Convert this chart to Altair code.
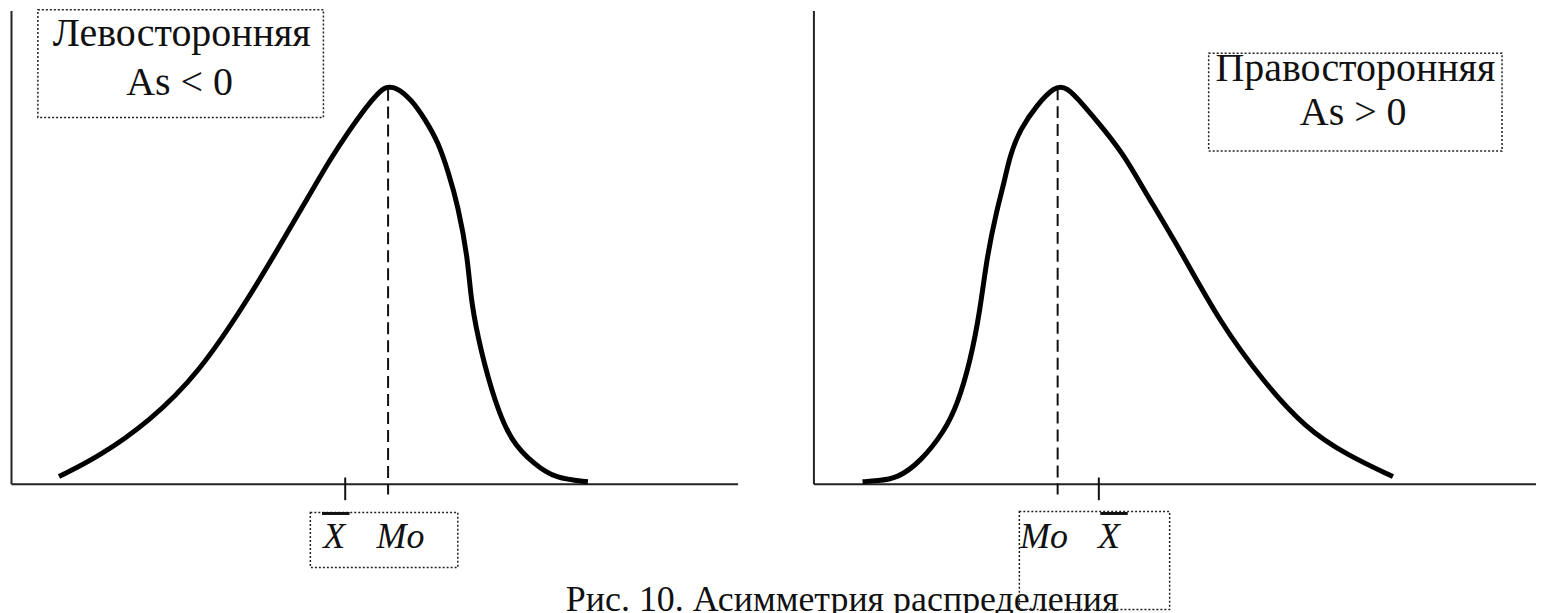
import altair as alt
import pandas as pd

# ---------------- data (panel units: x 0..100, y 0..100) ----------------
# Left-skewed distribution (As < 0)
left_x = [6.6, 12.1, 19.0, 25.8, 32.7, 36.8, 40.5, 44.1, 46.4, 48.9, 50.5,
          51.5, 53.0, 55.1, 57.0, 58.8, 60.2, 61.5, 62.9, 63.3, 64.7, 66.6, 68.8,
          72.1, 74.9, 79.4]
left_y = [1.5, 5.7, 13.1, 23.2, 39.2, 49.8, 59.5, 69.0, 74.3, 79.7, 82.5,
          83.9, 83.9, 81.2, 77.0, 72.2, 65.8, 58.9, 47.5, 38.4, 27.8, 17.3, 8.9,
          4.0, 1.1, 0.4]
left_mode, left_mean = 51.9, 46.0

# Right-skewed distribution (As > 0)
right_x = [6.8, 8.8, 11.6, 14.8, 18.1, 19.9, 21.7, 23.1, 24.0, 25.4, 26.4, 27.2,
           28.6, 30.9, 33.4, 35.0, 37.4, 40.2, 43.0, 45.7, 50.7, 56.2, 62.3, 68.2,
           73.8, 80.2]
right_y = [0.4, 0.6, 1.1, 4.6, 11.0, 16.6, 25.7, 36.9, 47.9, 58.0, 63.7, 69.4,
           74.9, 80.0, 84.0, 84.0, 80.0, 74.9, 69.4, 62.2, 49.6, 34.2, 21.5, 11.6,
           6.1, 1.5]
right_mode, right_mean = 33.8, 39.5

# Texts
left_title = ["Левосторонняя", "As < 0"]
right_title = ["Правосторонняя", "As > 0"]
caption = "Рис. 10. Асимметрия распределения"

# ---------------- helpers ----------------
W_L, W_R, H = 728, 724, 474
FONT = "Liberation Serif, Times New Roman, serif"

xs = alt.Scale(domain=[0, 100], nice=False, zero=False)
ys = alt.Scale(domain=[0, 100], nice=False, zero=False)
ax = alt.Axis(domain=True, domainColor="#222222", domainWidth=2, ticks=False,
              labels=False, grid=False, title=None)


def X(f="x"):
    return alt.X(f"{f}:Q", scale=xs, axis=ax)


def Y(f="y"):
    return alt.Y(f"{f}:Q", scale=ys, axis=ax)


def panel(cx, cy, mode, mean, title_lines, title_box, title_pos,
          lab_pos, lab_box, overline, width, extra=None):
    curve_df = pd.DataFrame({"x": cx, "y": cy})
    peak = max(cy) - 0.4
    curve = alt.Chart(curve_df).mark_line(
        color="black", strokeWidth=5, interpolate="basis"
    ).encode(x=X(), y=Y(), order="x:Q")

    dash = alt.Chart(pd.DataFrame({"x": [mode], "y": [peak], "y2": [-2.3]})).mark_rule(
        color="#111111", strokeWidth=2, strokeDash=[12, 6]
    ).encode(x=X(), y=Y(), y2="y2:Q")

    tick = alt.Chart(pd.DataFrame({"x": [mean], "y": [1.3], "y2": [-3.5]})).mark_rule(
        color="#111111", strokeWidth=2
    ).encode(x=X(), y=Y(), y2="y2:Q")

    boxes = alt.Chart(pd.DataFrame(title_box + lab_box)).mark_rect(
        fillOpacity=0, stroke="#222222", strokeWidth=1.5, strokeDash=[2, 2]
    ).encode(x=X(), x2="x2:Q", y=Y(), y2="y2:Q")

    ttl = alt.Chart(pd.DataFrame({"t": title_lines, "x": [p[0] for p in title_pos],
                                  "y": [p[1] for p in title_pos]})).mark_text(
        font=FONT, fontSize=40, color="#111111", align="center", baseline="alphabetic"
    ).encode(x=X(), y=Y(), text="t:N")

    labs = alt.Chart(pd.DataFrame({"t": [p[0] for p in lab_pos], "x": [p[1] for p in lab_pos],
                                   "y": [p[2] for p in lab_pos]})).mark_text(
        font=FONT, fontSize=36, fontStyle="italic", color="#111111", align="center",
        baseline="alphabetic"
    ).encode(x=X(), y=Y(), text="t:N")

    ovl = alt.Chart(pd.DataFrame([overline])).mark_rule(
        color="#111111", strokeWidth=3
    ).encode(x=X(), x2="x2:Q", y=Y())

    layers = [boxes, curve, dash, tick, ttl, labs, ovl]
    if extra is not None:
        layers.append(extra)
    return alt.layer(*layers).properties(width=width, height=H)


cap = alt.Chart(pd.DataFrame({"t": [caption], "x": [114.4], "y": [-27.0]})).mark_text(
    font=FONT, fontSize=36, color="#111111", align="center", baseline="alphabetic"
).encode(x=X(), y=Y(), text="t:N")

left = panel(
    left_x, left_y, left_mode, left_mean, left_title,
    [{"x": 3.7, "x2": 43.0, "y": 100.2, "y2": 77.4}],
    [(23.5, 92.6), (23.2, 82.1)],
    [("X", 44.5, -13.7), ("Mo", 53.6, -13.7)],
    [{"x": 41.2, "x2": 61.5, "y": -6.1, "y2": -17.7}],
    {"x": 42.8, "x2": 46.6, "y": -6.3},
    W_L, extra=cap,
)

right = panel(
    right_x, right_y, right_mode, right_mean, right_title,
    [{"x": 54.7, "x2": 95.3, "y": 91.0, "y2": 70.3}],
    [(75.0, 85.2), (74.7, 75.9)],
    [("Mo", 31.9, -13.7), ("X", 40.9, -13.7)],
    [{"x": 28.5, "x2": 49.3, "y": -5.9, "y2": -26.6}],
    {"x": 39.7, "x2": 43.5, "y": -6.3},
    W_R,
)

chart = alt.hconcat(left, right, spacing=76, bounds="flush").properties(
    padding={"left": 3, "top": 0, "right": 0, "bottom": 0},
    background="white",
).configure_view(stroke=None)

chart.save("out.html", embed_options={"renderer": "svg", "actions": False})
